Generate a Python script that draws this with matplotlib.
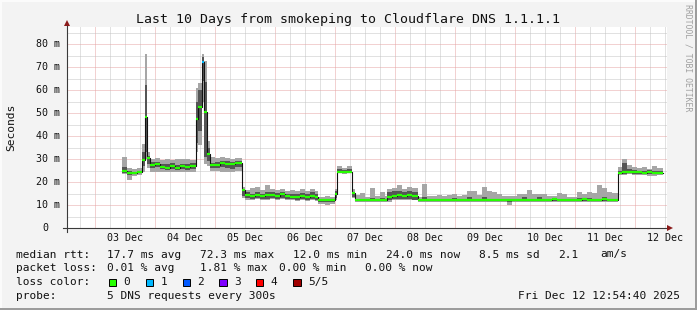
import matplotlib
matplotlib.use("Agg")
import matplotlib.pyplot as plt
from matplotlib.patches import Rectangle
import matplotlib.transforms as mtransforms

plt.rcParams['font.family'] = ['DejaVu Sans Mono']

W, H = 697, 310

# ---------------- data (hours since 03 Dec 00:00, values in ms) ----------------
seg_start = [11.0, 13.0, 15.0, 17.0, 19.0, 20.0, 21.0, 22.0, 24.0, 26.0,
             28.0, 30.0, 32.0, 34.0, 36.0, 38.0, 40.5, 41.3, 42.8, 43.8,
             45.0, 46.0, 48.0, 50.0, 52.0, 54.0, 56.0, 58.8, 60.0, 62.0,
             64.0, 66.0, 68.0, 70.0, 72.0, 74.0, 76.0, 78.0, 80.0, 82.0,
             84.0, 86.0, 88.0, 89.4, 92.0, 94.0, 96.2, 97.0, 99.0, 101.0,
             103.0, 104.0, 106.0, 108.0, 110.0, 112.0, 114.0, 116.0, 117.0, 119.0,
             121.0, 123.0, 125.0, 127.0, 129.4, 131.0, 133.0, 135.0, 137.0, 139.0,
             141.0, 143.0, 145.0, 147.0, 149.0, 151.0, 153.0, 155.0, 157.0, 159.0,
             161.0, 163.0, 165.0, 167.0, 169.0, 171.0, 173.0, 175.0, 177.0, 179.0,
             181.0, 183.0, 185.0, 187.0, 189.0, 191.0, 193.0, 195.0, 197.0, 199.0,
             201.0, 203.0, 205.0, 207.0, 209.4, 211.0, 213.0, 215.0, 217.0, 219.0,
             221.0, 223.0, 225.0]
data_end = 227.3

median = [24.8, 23.8, 24.0, 24.2, 29.5, 48.4, 30.4, 27.5, 27.8, 26.5,
          26.0, 26.8, 26.2, 26.8, 26.5, 27.0, 47.5, 52.7, 72.3, 50.5,
          32.0, 27.2, 27.5, 28.2, 28.0, 27.8, 28.2, 16.5, 14.3, 14.0,
          14.3, 13.8, 14.2, 14.5, 14.0, 14.8, 13.8, 13.6, 13.3, 14.0,
          13.5, 14.0, 13.6, 12.2, 12.0, 12.2, 15.0, 24.5, 24.3, 24.5,
          15.2, 12.2, 12.2, 12.2, 12.3, 12.2, 12.2, 12.3, 13.5, 14.0,
          14.5, 13.8, 14.5, 13.8, 12.2, 12.2, 12.2, 12.3, 12.2, 12.2,
          12.2, 12.3, 12.2, 12.2, 12.2, 12.2, 12.3, 12.2, 12.2, 12.2,
          12.2, 12.2, 12.1, 12.2, 12.2, 12.3, 12.2, 12.2, 12.2, 12.2,
          12.2, 12.4, 12.2, 12.2, 12.2, 12.0, 12.2, 12.4, 12.2, 12.0,
          12.2, 12.4, 12.0, 12.2, 24.0, 24.2, 24.5, 24.3, 24.2, 24.0,
          24.2, 24.0, 24.0]

dark_lo = [24.0, 23.0, 23.5, 23.8, 27.0, 33.0, 28.0, 26.0, 26.5, 25.5,
           25.2, 25.5, 25.3, 25.5, 25.3, 25.8, 37.0, 42.0, 64.0, 31.0,
           29.0, 26.0, 26.2, 26.5, 26.0, 25.8, 26.5, 14.0, 13.0, 12.8,
           13.0, 12.8, 12.8, 13.0, 12.8, 13.2, 12.5, 12.5, 12.2, 12.5,
           12.3, 12.5, 12.3, 11.5, 11.3, 11.5, 13.0, 24.0, 23.8, 24.0,
           13.5, 11.8, 11.8, 11.8, 11.8, 11.8, 11.8, 11.8, 12.0, 12.5,
           12.5, 12.5, 12.5, 12.3, 11.8, 11.8, 11.8, 11.8, 11.8, 11.8,
           11.8, 11.8, 11.8, 11.8, 11.8, 11.8, 11.8, 11.8, 11.8, 11.8,
           11.8, 11.8, 11.5, 11.8, 11.8, 11.8, 11.8, 11.8, 11.8, 11.8,
           11.8, 11.8, 11.8, 11.8, 11.8, 11.6, 11.8, 11.8, 11.8, 11.6,
           11.8, 11.8, 11.6, 11.8, 23.5, 23.5, 23.8, 23.6, 23.5, 23.4,
           23.5, 23.3, 23.4]

dark_hi = [26.5, 25.0, 24.5, 24.8, 33.0, 62.0, 31.5, 28.5, 28.8, 28.0,
           27.8, 28.2, 27.5, 28.0, 27.8, 28.3, 55.0, 60.0, 74.3, 63.6,
           35.0, 28.2, 28.5, 29.0, 29.0, 28.8, 29.2, 17.0, 15.5, 15.0,
           15.5, 15.0, 15.5, 15.5, 15.2, 15.8, 15.0, 15.0, 14.8, 15.3,
           15.0, 15.5, 15.0, 12.8, 12.6, 12.8, 16.0, 25.5, 25.2, 25.5,
           15.5, 12.8, 12.8, 12.6, 13.0, 12.8, 13.0, 12.8, 15.5, 16.0,
           16.0, 15.5, 16.0, 15.5, 12.8, 13.3, 12.8, 12.8, 12.8, 12.8,
           12.8, 13.0, 12.8, 12.8, 13.3, 12.8, 12.8, 13.3, 12.8, 12.8,
           12.8, 12.8, 12.8, 12.8, 12.8, 13.3, 12.8, 12.8, 13.3, 12.8,
           12.8, 13.0, 12.8, 12.8, 12.8, 12.8, 13.0, 12.8, 13.0, 12.8,
           12.8, 13.3, 12.8, 12.8, 25.0, 28.2, 25.8, 25.3, 25.0, 25.0,
           25.2, 25.0, 24.8]

light_lo = [23.5, 21.0, 22.5, 23.0, 24.5, 30.0, 26.0, 24.5, 24.5, 24.3,
            24.3, 24.5, 24.2, 24.5, 24.3, 24.5, 33.0, 36.0, 55.0, 28.0,
            27.0, 25.0, 24.8, 24.5, 24.5, 24.3, 25.0, 13.0, 12.3, 12.2,
            12.5, 12.2, 12.3, 12.5, 12.2, 12.5, 12.0, 12.0, 11.8, 12.0,
            11.8, 12.0, 11.8, 10.3, 10.0, 10.5, 12.0, 23.8, 23.5, 23.8,
            13.0, 11.5, 11.5, 11.5, 11.5, 11.5, 11.5, 11.5, 11.5, 12.0,
            12.0, 12.0, 12.0, 12.0, 11.5, 11.5, 11.5, 11.5, 11.5, 11.5,
            11.5, 11.5, 11.5, 11.5, 11.5, 11.5, 11.5, 11.5, 11.5, 11.5,
            11.5, 11.5, 10.0, 11.5, 11.5, 11.5, 11.5, 11.5, 11.5, 11.5,
            11.5, 11.5, 11.5, 11.5, 11.5, 11.3, 11.5, 11.5, 11.5, 11.3,
            11.5, 11.5, 11.3, 11.3, 23.0, 23.0, 23.3, 23.2, 23.0, 23.0,
            22.8, 22.8, 23.0]

light_hi = [31.0, 26.0, 25.5, 26.0, 36.5, 75.6, 33.0, 30.0, 30.5, 29.5,
            30.0, 29.5, 30.2, 29.8, 30.0, 29.5, 61.0, 63.0, 75.6, 72.6,
            38.0, 31.0, 30.5, 31.0, 30.5, 30.0, 30.5, 18.0, 16.5, 17.5,
            18.0, 16.5, 18.5, 17.0, 16.5, 17.0, 16.2, 16.5, 16.0, 16.8,
            16.3, 17.0, 16.0, 13.5, 13.8, 13.5, 17.0, 27.0, 26.2, 26.8,
            17.0, 14.5, 15.1, 13.5, 17.4, 14.0, 15.5, 14.0, 17.0, 17.5,
            18.5, 17.0, 18.0, 17.5, 13.5, 19.1, 14.0, 13.8, 14.5, 13.8,
            14.2, 15.0, 14.0, 14.5, 16.3, 16.3, 14.5, 18.0, 16.3, 15.5,
            14.8, 14.0, 14.0, 13.8, 14.8, 14.8, 16.5, 15.0, 14.8, 15.0,
            14.0, 14.0, 15.4, 15.0, 13.5, 13.5, 15.5, 15.0, 15.8, 15.1,
            18.7, 17.5, 15.5, 15.2, 26.5, 30.0, 27.4, 26.6, 26.2, 26.5,
            25.8, 26.8, 26.0]

# loss class per segment (0 = no loss); one 1/5 loss at the big spike
loss_class = [0] * len(seg_start)
loss_class[18] = 1

loss_labels = ['0', '1', '2', '3', '4', '5/5']
loss_colors = ['#26ff00', '#00b8ff', '#0059ff', '#7e00ff', '#ff0000', '#a00000']

day_labels = ['03 Dec', '04 Dec', '05 Dec', '06 Dec', '07 Dec',
              '08 Dec', '09 Dec', '10 Dec', '11 Dec', '12 Dec']
y_ticks = [0, 10, 20, 30, 40, 50, 60, 70, 80]
y_tick_labels = ['0', '10 m', '20 m', '30 m', '40 m', '50 m', '60 m', '70 m', '80 m']

title = 'Last 10 Days from smokeping to Cloudflare DNS 1.1.1.1'
legend_rows = [
    ['median rtt:', '17.7 ms avg', '72.3 ms max', '12.0 ms min', '24.0 ms now', '8.5 ms sd', '2.1', 'am/s'],
    ['packet loss:', '0.01 % avg', '1.81 % max', '0.00 % min', '0.00 % now'],
]
probe_text = '5 DNS requests every 300s'
timestamp = 'Fri Dec 12 12:54:40 2025'

# time window: 02 Dec 12:54:40 .. 12 Dec 12:54:40 (hours from 03 Dec 00:00)
t_start = -11.0889
t_end = 228.9111
y_top = 87.4

# ---------------- figure ----------------
fig = plt.figure(figsize=(W / 100, H / 100), dpi=100, facecolor='#f3f3f3')
ax = fig.add_axes([67 / W, (H - 228) / H, 600 / W, 201 / H], facecolor='white')
ax.set_xlim(t_start, t_end)
ax.set_ylim(0, y_top)
for s in ax.spines.values():
    s.set_visible(False)
ax.set_xticks([])
ax.set_yticks([])

# grid
minor_c = '#c4c4c4'
major_c = '#e6a5a5'
dots = (0, (1, 1))
h = -6.0
while h < t_end:
    if abs(h % 24) < 1e-6:
        ax.axvline(h, color=major_c, lw=0.72, ls=dots, zorder=1)
    else:
        ax.axvline(h, color=minor_c, lw=0.72, ls=dots, zorder=1)
    h += 6.0
for v in range(5, 90, 5):
    if v % 10 == 0:
        ax.axhline(v, color=major_c, lw=0.72, ls=dots, zorder=1)
    else:
        ax.axhline(v, color=minor_c, lw=0.72, ls=dots, zorder=1)

# smoke
edges = seg_start + [data_end]
def ext(a):
    return a + [a[-1]]
ax.fill_between(edges, ext(light_lo), ext(light_hi), step='post',
                color='#a6a6a6', lw=0, zorder=2)
ax.fill_between(edges, ext(dark_lo), ext(dark_hi), step='post',
                color='#555555', lw=0, zorder=3)

# median: black step line + loss-coloured segments
ax.step(edges, ext(median), where='post', color='#111111', lw=0.8, zorder=4)
seg_end = seg_start[1:] + [data_end]
ax.hlines(median, seg_start, seg_end,
          colors=[loss_colors[c] for c in loss_class], lw=1.6, zorder=5)

# axes lines (in axes fraction)
def axfx(px):
    return (px - 67) / 600.0
def axfy(py):
    return (228 - py) / 201.0
axis_c = '#3a3a3a'
ax.plot([axfx(63), axfx(669)], [0, 0], transform=ax.transAxes, color=axis_c,
        lw=0.8, clip_on=False, zorder=6)
ax.plot([0, 0], [axfy(232), axfy(25)], transform=ax.transAxes, color=axis_c,
        lw=0.8, clip_on=False, zorder=6)
ax.plot([axfx(670)], [0], transform=ax.transAxes, marker='>', ms=4.2,
        color='#8b1a1a', clip_on=False, zorder=7, mew=0)
ax.plot([0], [axfy(23.5)], transform=ax.transAxes, marker='^', ms=4.2,
        color='#8b1a1a', clip_on=False, zorder=7, mew=0)

# tick labels
tick_trans = mtransforms.blended_transform_factory(ax.transData, ax.transAxes)
for i, lab in enumerate(day_labels):
    ax.text(12 + 24 * i, axfy(238), lab, transform=tick_trans, ha='center',
            va='center', fontsize=7.2, color='#111111')
ytrans = mtransforms.blended_transform_factory(ax.transAxes, ax.transData)
for v, lab in zip(y_ticks, y_tick_labels):
    xr = axfx(60.5) if lab != '0' else axfx(48)
    ax.text(xr, v, lab, transform=ytrans, ha='right', va='center',
            fontsize=7.2, color='#111111')

# figure texts
def fx(px):
    return px / W
def fy(py):
    return 1 - py / H

fig.text(fx(348), fy(19), title, ha='center', va='center', fontsize=9.5, color='#111111')
fig.text(fx(11), fy(127), 'Seconds', rotation=90, ha='center', va='center',
         fontsize=8.1, color='#111111')
fig.text(fx(688), fy(4), 'RRDTOOL / TOBI OETIKER', rotation=270, ha='center',
         va='top', fontsize=5.9, color='#a0a0a0')

lf = 8.0
row1_x = [16, 107.3, 200, 293.3, 386, 479.3, 558.3, 600]
for x, t in zip(row1_x, legend_rows[0]):
    fig.text(fx(x), fy(254.5), t, ha='left', va='center', fontsize=lf, color='#111111')
row2_x = [16, 107.3, 200, 279.3, 365]
for x, t in zip(row2_x, legend_rows[1]):
    fig.text(fx(x), fy(268.3), t, ha='left', va='center', fontsize=lf, color='#111111')

fig.text(fx(16), fy(282.3), 'loss color:', ha='left', va='center', fontsize=lf, color='#111111')
sw_x = [108.7, 145.7, 182.7, 219.3, 256.0, 293.3]
for x, lab, col in zip(sw_x, loss_labels, loss_colors):
    fig.patches.append(Rectangle((fx(x), fy(286)), 7.4 / W, 7.4 / H,
                                 transform=fig.transFigure, facecolor=col,
                                 edgecolor='#000000', lw=0.7))
    fig.text(fx(x + 14.7), fy(282.3), lab, ha='left', va='center', fontsize=lf, color='#111111')

fig.text(fx(16), fy(296), 'probe:', ha='left', va='center', fontsize=lf, color='#111111')
fig.text(fx(107.3), fy(296), probe_text, ha='left', va='center', fontsize=lf, color='#111111')
fig.text(fx(680.5), fy(296), timestamp, ha='right', va='center', fontsize=lf, color='#111111')

# 3D-ish frame
fig.patches.append(Rectangle((fx(695), 0), 2 / W, 1, transform=fig.transFigure,
                             facecolor='#9c9c9c', lw=0))
fig.patches.append(Rectangle((0, 0), 1, 2 / H, transform=fig.transFigure,
                             facecolor='#9c9c9c', lw=0))
fig.patches.append(Rectangle((0, fy(2)), fx(695), 2 / H, transform=fig.transFigure,
                             facecolor='#fbfbfb', lw=0))
fig.patches.append(Rectangle((0, 2 / H), 2 / W, 1, transform=fig.transFigure,
                             facecolor='#fbfbfb', lw=0))

fig.savefig('out.png', dpi=100, facecolor=fig.get_facecolor())
